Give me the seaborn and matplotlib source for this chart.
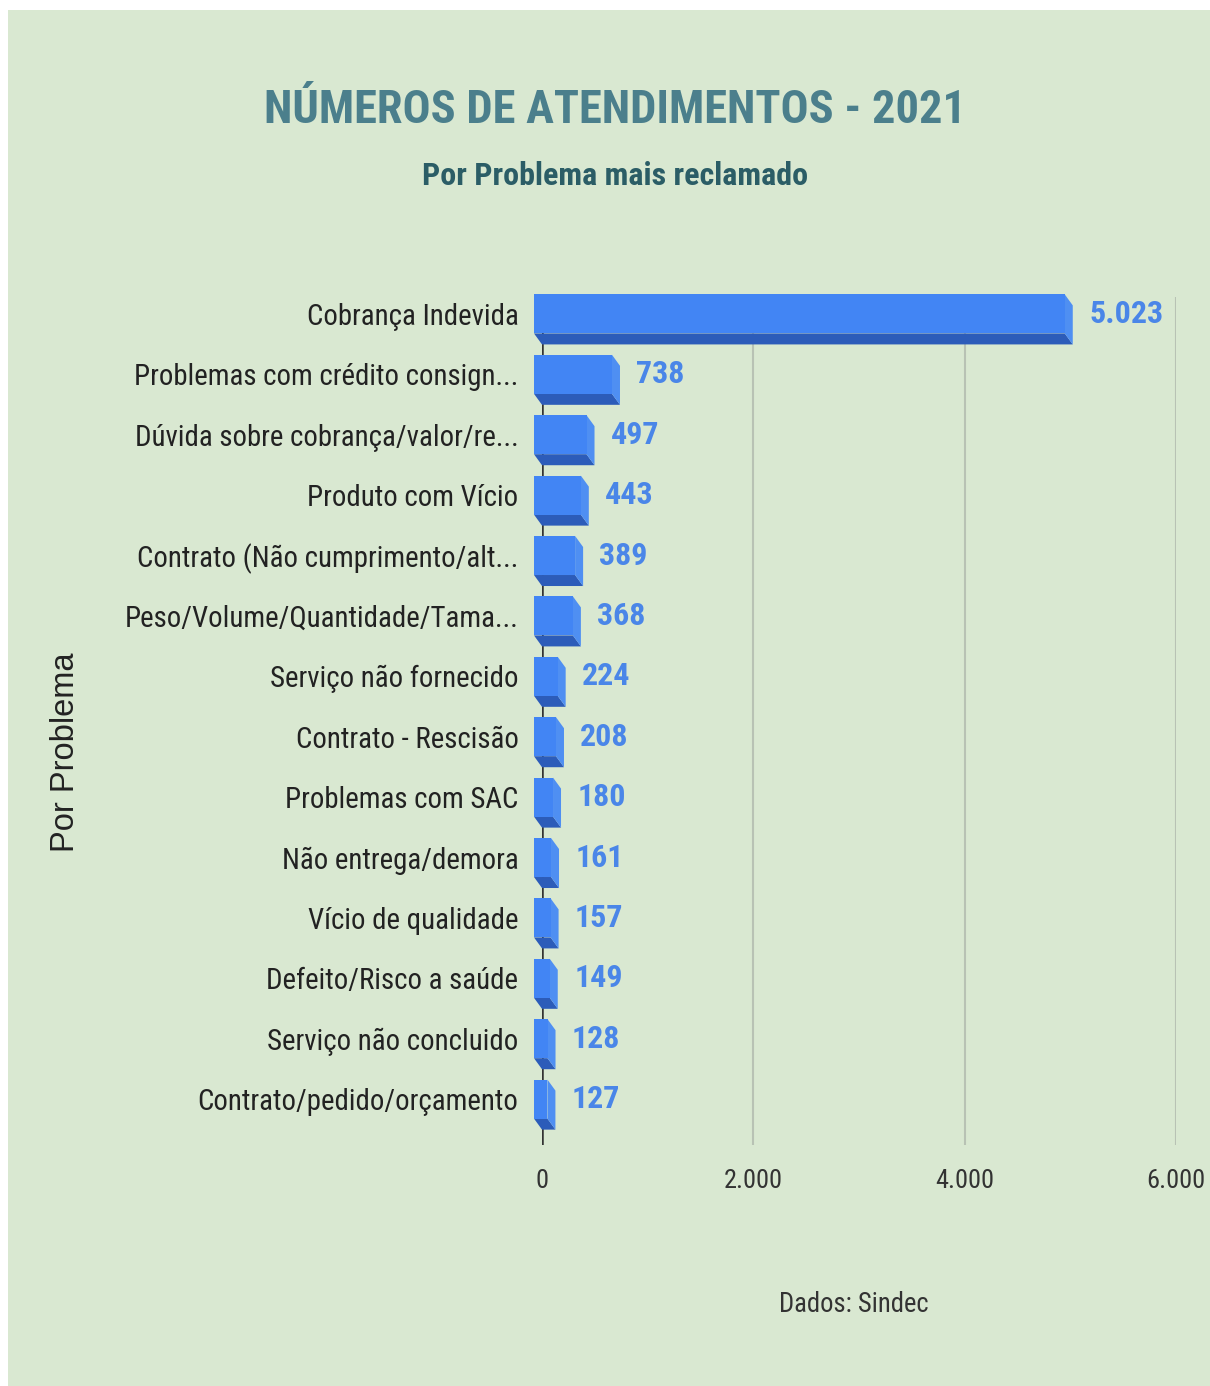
import matplotlib
matplotlib.use("Agg")
import matplotlib.pyplot as plt
import seaborn as sns
import pandas as pd
from matplotlib.patches import Polygon, Rectangle

# Complaint categories and their 2021 counts
categories = [
    "Cobrança Indevida",
    "Problemas com crédito consign...",
    "Dúvida sobre cobrança/valor/re...",
    "Produto com Vício",
    "Contrato (Não cumprimento/alt...",
    "Peso/Volume/Quantidade/Tama...",
    "Serviço não fornecido",
    "Contrato - Rescisão",
    "Problemas com SAC",
    "Não entrega/demora",
    "Vício de qualidade",
    "Defeito/Risco a saúde",
    "Serviço não concluido",
    "Contrato/pedido/orçamento",
]
values = [5023, 738, 497, 443, 389, 368, 224, 208, 180, 161, 157, 149, 128, 127]
x_ticks = [0, 2000, 4000, 6000]
x_tick_labels = ["0", "2.000", "4.000", "6.000"]

BG = "#d9e8d1"
FRONT = "#4285f4"
BOTTOM = "#2c5cb9"
SIDE = "#4f8ff2"
LABEL_BLUE = "#4a86e8"

sns.set_theme(style="white")
NARROW = ["Roboto Condensed", "Liberation Sans Narrow", "Liberation Sans", "DejaVu Sans"]
plt.rcParams["font.family"] = NARROW
plt.rcParams["font.stretch"] = "condensed"

W, H = 1210, 1386
fig = plt.figure(figsize=(W / 100, H / 100), dpi=100, facecolor="white")
fig.patches.append(Rectangle((8 / W, 0), 1, 1 - 10 / H, transform=fig.transFigure,
                             facecolor=BG, edgecolor="none", zorder=-10))

ax = fig.add_axes([542 / W, 1 - 1145 / H, (1176 - 542) / W, (1145 - 297) / H])
ax.set_facecolor("none")

df = pd.DataFrame({"problema": categories, "atendimentos": values})
sns.barplot(data=df, x="atendimentos", y="problema", orient="h", color=FRONT,
            saturation=1, width=0.646, ax=ax, zorder=4, linewidth=0, edgecolor="none")

ax.set_xlim(0, 6000)
ax.set_ylim(13.76, -0.28)

# extrusion depth of the pseudo-3D bars, in data units
dx = 8 * 6000 / 634
dy = 11 / 60.38

for patch, v in zip(ax.patches[:len(values)], values):
    x0 = patch.get_x()
    y0 = patch.get_y()
    h = patch.get_height()
    w = patch.get_width()
    patch.set_x(x0 - dx)
    patch.set_clip_on(False)
    yb = y0 + h
    bottom = Polygon([(x0 - dx, yb), (x0 + w - dx, yb), (x0 + w, yb + dy), (x0, yb + dy)],
                     closed=True, facecolor=BOTTOM, edgecolor="none", zorder=3, clip_on=False)
    side = Polygon([(x0 + w - dx, y0), (x0 + w, y0 + dy), (x0 + w, yb + dy), (x0 + w - dx, yb)],
                   closed=True, facecolor=SIDE, edgecolor="none", zorder=3, clip_on=False)
    ax.add_patch(bottom)
    ax.add_patch(side)
    ax.text(v + 155, y0 + h / 2, f"{v:,}".replace(",", "."), ha="left", va="center",
            fontsize=23, fontweight="bold", color=LABEL_BLUE, zorder=5)

ax.axvline(0, color="#333333", lw=1.8, zorder=2)
ax.set_xticks(x_ticks)
ax.set_xticklabels(x_tick_labels)
ax.grid(axis="x", color="#b8c2b4", linewidth=1.5, zorder=0)
ax.grid(axis="y", visible=False)
for s in ax.spines.values():
    s.set_visible(False)
ax.tick_params(axis="x", length=0, pad=17, labelsize=19, labelcolor="#333333")
ax.tick_params(axis="y", length=0, pad=17, labelsize=20.8, labelcolor="#222222")
ax.set_xlabel("")
ax.set_ylabel("")

fig.text(66 / W, 1 - 752 / H, "Por Problema", rotation=90, ha="center", va="center",
         fontsize=23.5, color="#222222", family=["Liberation Sans", "DejaVu Sans"],
         fontstretch="normal")
fig.text(615 / W, 1 - 123 / H, "NÚMEROS DE ATENDIMENTOS - 2021", ha="center", va="baseline",
         fontsize=33.5, fontweight="bold", color="#4b7f8c")
fig.text(615 / W, 1 - 185 / H, "Por Problema mais reclamado", ha="center", va="baseline",
         fontsize=23, fontweight="bold", color="#2b5d66")
fig.text(854 / W, 1 - 1312 / H, "Dados: Sindec", ha="center", va="baseline",
         fontsize=19.2, color="#333333")

fig.savefig("out.png", dpi=100, facecolor=fig.get_facecolor())
